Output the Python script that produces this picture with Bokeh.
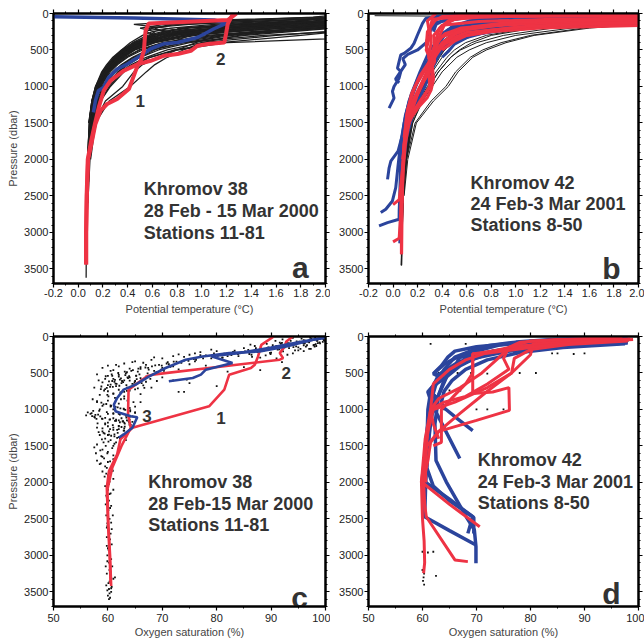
from bokeh.plotting import figure
from bokeh.models import Range1d, LinearAxis, FixedTicker, PrintfTickFormatter
from bokeh.layouts import column, row
from bokeh.embed import file_html
from bokeh.resources import INLINE
from bokeh.core.properties import value

nan = float("nan")
FONT = "Liberation Sans"
RED = "#ee3344"
BLUE = "#2b449c"
INK = "#1e1e1e"
TXT = "#333333"

# ---------------- Panel a : Khromov 38 potential temperature ----------------
LEVELS_A = [0, 50, 100, 150, 200, 250, 300, 400, 500, 600, 700, 800, 1000, 1200, 1500, 2000, 2600, 3300, 3620]
CTD_A = [
    [3.0, 2.9, 2.6, 2.2, 1.7, 1.25, 0.95, 0.62, 0.45, 0.36, 0.29, 0.24, 0.17, 0.13, 0.10, 0.08, 0.07, 0.065, 0.064],
    [2.8, 2.7, 2.4, 2.0, 1.5, 1.10, 0.85, 0.55, 0.42, 0.33, 0.27, 0.22, 0.16, 0.12, 0.095, 0.078, 0.07, nan, nan],
    [2.6, 2.5, 2.3, 1.9, 1.4, 1.00, 0.78, 0.52, 0.39, 0.31, 0.26, 0.21, 0.15, 0.12, 0.095, 0.08, nan, nan, nan],
    [3.2, 3.0, 2.7, 2.3, 1.9, 1.45, 1.10, 0.70, 0.50, 0.39, 0.31, 0.25, 0.18, 0.14, 0.105, 0.082, 0.072, 0.066, nan],
    [2.5, 2.4, 2.1, 1.6, 1.2, 0.92, 0.72, 0.50, 0.38, 0.30, 0.25, 0.20, 0.145, 0.115, 0.09, nan, nan, nan, nan],
    [3.0, 2.8, 2.5, 2.1, 1.8, 1.50, 1.25, 0.85, 0.60, 0.45, 0.36, 0.29, 0.20, 0.15, 0.11, 0.085, 0.072, nan, nan],
    [2.7, 2.6, 2.2, 1.7, 1.2, 0.85, 0.65, 0.45, 0.35, 0.28, 0.23, 0.19, 0.14, 0.11, 0.09, 0.075, nan, nan, nan],
    [3.1, 3.0, 2.8, 2.5, 2.1, 1.70, 1.35, 0.90, 0.65, 0.50, 0.40, 0.32, 0.22, 0.16, 0.12, 0.09, 0.075, 0.068, nan],
    [2.4, 2.2, 1.5, 0.9, 0.55, 0.75, 0.60, 0.48, 0.40, 0.32, 0.27, 0.22, 0.16, 0.12, 0.095, nan, nan, nan, nan],
    [2.9, 2.8, 2.4, 1.4, 0.8, 1.00, 0.85, 0.62, 0.46, 0.37, 0.30, 0.24, 0.17, 0.13, 0.10, 0.08, nan, nan, nan],
    [2.6, 2.2, 1.8, 1.3, 1.0, 0.80, 0.66, 0.50, 0.40, 0.33, 0.28, 0.23, 0.17, 0.13, 0.10, nan, nan, nan, nan],
    [3.3, 3.1, 2.9, 2.6, 2.3, 2.00, 1.60, 1.00, 0.72, 0.55, 0.43, 0.34, 0.23, 0.17, 0.12, 0.09, 0.075, 0.068, nan],
    [3.5, 3.4, 3.3, 3.2, 3.1, 2.95, 2.70, 1.20, 0.80, 0.58, 0.45, 0.36, 0.25, 0.18, 0.13, 0.095, 0.078, nan, nan],
    [2.3, 2.1, 1.6, 1.1, 0.75, 0.60, 0.52, 0.42, 0.35, 0.29, 0.24, 0.20, 0.14, 0.11, 0.085, nan, nan, nan, nan],
    [2.5, 2.3, 1.9, 1.3, 0.9, 0.68, 0.56, 0.44, 0.36, 0.30, 0.25, 0.21, 0.15, 0.115, 0.09, 0.075, nan, nan, nan],
    [3.0, 2.9, 2.7, 2.4, 2.0, 1.60, 1.30, 1.00, 0.85, 0.72, 0.62, 0.55, 0.42, 0.25, 0.14, 0.10, nan, nan, nan],
    [2.9, 2.8, 2.6, 2.3, 1.9, 1.50, 1.15, 0.95, 0.80, 0.65, 0.52, 0.45, 0.36, 0.22, 0.13, 0.09, nan, nan, nan],
    [2.5, 2.0, 0.9, 0.45, 0.7, 0.90, 0.75, 0.55, 0.42, 0.34, 0.28, 0.23, 0.16, 0.12, 0.095, nan, nan, nan, nan],
    [3.4, 3.2, 3.0, 2.7, 2.4, 2.10, 1.80, 1.15, 0.78, 0.58, 0.46, 0.37, 0.26, 0.18, 0.125, 0.09, 0.075, 0.067, nan],
    [2.8, 2.6, 2.0, 1.5, 1.1, 0.88, 0.72, 0.54, 0.43, 0.35, 0.29, 0.24, 0.17, 0.13, 0.10, 0.08, 0.07, 0.065, nan],
    [2.2, 1.9, 1.2, 0.7, 0.5, 0.62, 0.58, 0.47, 0.38, 0.31, 0.26, 0.21, 0.15, 0.115, 0.09, nan, nan, nan, nan],
    [3.1, 2.95, 2.75, 2.45, 2.0, 1.55, 1.2, 0.78, 0.56, 0.44, 0.35, 0.28, 0.19, 0.14, 0.105, 0.082, nan, nan, nan],
    [2.9, 2.7, 2.3, 1.8, 1.35, 1.0, 0.80, 0.57, 0.44, 0.35, 0.28, 0.23, 0.165, 0.125, 0.095, 0.078, nan, nan, nan],
    [2.7, 2.5, 2.1, 1.6, 1.15, 0.88, 0.70, 0.49, 0.37, 0.30, 0.245, 0.20, 0.145, 0.112, 0.088, nan, nan, nan, nan],
    [3.0, 2.85, 2.55, 2.15, 1.65, 1.2, 0.9, 0.60, 0.45, 0.355, 0.285, 0.235, 0.165, 0.128, 0.098, 0.079, 0.07, nan, nan],
    [2.4, 2.2, 1.75, 1.2, 0.85, 0.70, 0.60, 0.46, 0.37, 0.30, 0.25, 0.205, 0.148, 0.113, 0.088, nan, nan, nan, nan],
    [3.2, 3.05, 2.8, 2.4, 1.95, 1.5, 1.15, 0.72, 0.52, 0.40, 0.32, 0.26, 0.18, 0.135, 0.10, 0.08, 0.07, nan, nan],
    [2.6, 2.3, 1.5, 0.8, 0.6, 0.55, 0.62, 0.50, 0.40, 0.32, 0.265, 0.215, 0.155, 0.12, 0.093, nan, nan, nan, nan],
    [2.85, 2.7, 2.45, 2.05, 1.55, 1.15, 0.88, 0.58, 0.43, 0.34, 0.275, 0.225, 0.16, 0.122, 0.095, 0.078, nan, nan, nan],
    [2.5, 2.35, 2.0, 1.45, 1.0, 0.76, 0.62, 0.46, 0.365, 0.295, 0.24, 0.198, 0.142, 0.11, 0.087, nan, nan, nan, nan],
    [3.3, 3.2, 3.0, 2.75, 2.45, 2.05, 1.5, 0.85, 0.60, 0.47, 0.37, 0.30, 0.21, 0.155, 0.115, 0.088, 0.074, nan, nan],
    [2.7, 2.55, 2.25, 1.8, 1.3, 0.95, 0.75, 0.53, 0.41, 0.33, 0.27, 0.22, 0.16, 0.122, 0.094, nan, nan, nan, nan],
    [2.3, 2.0, 1.3, 0.75, 0.62, 0.70, 0.66, 0.52, 0.41, 0.33, 0.27, 0.22, 0.155, 0.118, 0.092, nan, nan, nan, nan],
    [3.1, 2.9, 2.6, 2.2, 1.8, 1.4, 1.05, 0.68, 0.49, 0.38, 0.30, 0.245, 0.172, 0.13, 0.1, 0.08, nan, nan, nan],
    [2.95, 2.8, 2.5, 2.0, 1.5, 1.12, 0.9, 0.75, 0.62, 0.50, 0.40, 0.33, 0.24, 0.16, 0.11, 0.085, nan, nan, nan],
    [2.6, 2.4, 2.0, 1.55, 1.1, 0.82, 0.66, 0.48, 0.38, 0.305, 0.25, 0.205, 0.15, 0.115, 0.09, 0.076, 0.069, nan, nan],
]
BLUE_A_T = [-0.2, 0.45, 1.1, 1.21, 1.182, 1.098, 0.965, 0.803, 0.692, 0.586, 0.505, 0.397, 0.315, 0.245, 0.204, 0.163, 0.139, 0.123]
BLUE_A_P = [45, 63, 90, 137, 145, 209, 329, 397, 415, 483, 579, 693, 761, 876, 1013, 1058, 1195, 1355]
RED_A1_T = [1.28, 1.21, 0.57, 0.545, 0.537, 0.531, 0.505, 0.483, 0.445, 0.41, 0.315, 0.234, 0.18, 0.139, 0.112, 0.08, 0.07, 0.065, 0.065]
RED_A1_P = [0, 90, 137, 237, 374, 511, 648, 700, 876, 1035, 1172, 1240, 1332, 1514, 1743, 2000, 2500, 3000, 3440]
RED_A2_T = [1.25, 1.209, 1.195, 1.182, 1.047, 0.965, 0.911, 0.803, 0.694, 0.586, 0.483, 0.369, 0.261, 0.206, 0.166, 0.135, 0.105, 0.077, 0.068, 0.063, 0.063]
RED_A2_P = [8, 145, 282, 397, 419, 442, 511, 556, 579, 648, 693, 784, 921, 1058, 1287, 1514, 1743, 2000, 2500, 3000, 3440]

# ---------------- Panel b : Khromov 42 potential temperature ----------------
LEVELS_B = [0, 30, 60, 100, 150, 200, 300, 400, 500, 600, 800, 1000, 1200, 1500, 2000, 2500, 3000, 3450]
CTD_B = [
    [2.8, 2.6, 2.3, 1.6, 1.0, 0.75, 0.52, 0.43, 0.38, 0.34, 0.29, 0.24, 0.19, 0.14, 0.10, 0.08, 0.072, 0.068],
    [3.0, 2.9, 2.6, 2.0, 1.4, 1.0, 0.66, 0.52, 0.45, 0.40, 0.32, 0.26, 0.20, 0.145, 0.10, 0.08, nan, nan],
    [2.6, 2.4, 1.9, 1.3, 0.85, 0.62, 0.46, 0.39, 0.35, 0.32, 0.28, 0.23, 0.18, 0.13, 0.095, nan, nan, nan],
    [3.1, 3.0, 2.7, 2.2, 1.7, 1.3, 0.90, 0.68, 0.55, 0.47, 0.37, 0.29, 0.22, 0.15, 0.105, 0.082, 0.072, nan],
    [2.4, 2.2, 1.7, 1.1, 0.7, 0.52, 0.41, 0.36, 0.33, 0.31, 0.27, 0.22, 0.17, 0.125, 0.09, nan, nan, nan],
    [2.9, 2.7, 2.4, 1.8, 1.2, 0.88, 0.60, 0.49, 0.42, 0.38, 0.31, 0.25, 0.19, 0.14, 0.10, 0.08, 0.07, nan],
    [3.2, 3.1, 2.9, 2.5, 1.95, 1.55, 1.12, 0.88, 0.73, 0.63, 0.51, 0.43, 0.31, 0.18, 0.11, 0.085, 0.075, 0.07],
    [2.7, 2.5, 2.1, 1.5, 0.95, 0.70, 0.49, 0.41, 0.37, 0.34, 0.29, 0.24, 0.19, 0.14, 0.10, 0.08, nan, nan],
    [nan, -0.15, 2.5, 1.9, 1.3, 0.95, 0.63, 0.49, 0.42, 0.37, 0.30, 0.25, 0.19, 0.14, 0.10, 0.08, 0.072, 0.068],
    [3.0, 2.8, 2.4, 1.8, 1.3, 1.1, 0.76, 0.59, 0.50, 0.44, 0.35, 0.28, 0.21, 0.15, 0.10, nan, nan, nan],
    [2.5, 2.3, 2.0, 1.6, 1.1, 0.80, 0.56, 0.46, 0.40, 0.36, 0.30, 0.25, 0.20, 0.15, 0.11, 0.085, 0.072, 0.066],
    [2.2, 2.0, 1.5, 0.9, 0.6, 0.48, 0.40, 0.35, 0.33, 0.31, 0.28, 0.23, 0.18, 0.13, 0.095, nan, nan, nan],
    [3.1, 3.0, 2.8, 2.4, 1.85, 1.45, 1.0, 0.76, 0.62, 0.52, 0.40, 0.32, 0.24, 0.16, 0.105, 0.082, nan, nan],
    [2.9, 2.8, 2.5, 2.0, 1.5, 1.15, 0.80, 0.64, 0.54, 0.47, 0.37, 0.30, 0.23, 0.16, 0.11, 0.085, 0.074, 0.07],
    [3.3, 3.2, 3.0, 2.6, 2.0, 1.6, 1.15, 0.92, 0.76, 0.65, 0.53, 0.45, 0.33, 0.19, 0.12, 0.09, nan, nan],
]
BLUE_B_T = [
    [0.6, 0.35, 0.266, 0.24, 0.199, 0.171, 0.144, 0.09, 0.063, 0.049, 0.036, 0.063, 0.049, 0.008, -0.005, 0.008, -0.032],
    [1.2, 0.6, 0.35, 0.3, 0.27, 0.2, 0.12, 0.08, 0.10, 0.06, 0.02, 0.05],
    [2.2, 1.2, 0.6, 0.4, 0.3, 0.22, 0.15, 0.1, 0.077, 0.041, -0.018, -0.032, -0.045],
    [2.5, 1.5, 0.8, 0.45, 0.3, 0.2, 0.13, 0.09, 0.06, 0.04, 0.022, -0.005, -0.059, -0.1],
    [2.4, 1.3, 0.7, 0.42, 0.28, 0.18, 0.12, 0.08, 0.06, 0.055, 0.05, 0.049, -0.045, -0.114],
    [2.6, 1.8, 1.0, 0.55, 0.35, 0.22, 0.14, 0.09, 0.07, 0.06, 0.06, 0.055],
    [2.2, 1.4, 0.9, 0.6, 0.45, 0.38, 0.34, 0.3],
    [2.1, 1.5, 1.0, 0.7, 0.5, 0.4],
    [2.3, 1.6, 1.1, 0.8, 0.55, 0.45, 0.38, 0.33, 0.25],
    [0.55, 0.45, 0.35, 0.33],
    [2.1, 1.2, 0.7, 0.5, 0.42, 0.36, 0.31, 0.26, 0.2, 0.15, 0.11, 0.09],
    [1.6, 1.0, 0.62, 0.48, 0.4, 0.33],
    [2.1, 1.6, 1.2, 0.9, 0.65, 0.5, 0.42, 0.36],
    [2.1, 1.4, 1.0, 0.75, 0.6, 0.5, 0.45, 0.4],
    [2.1, 1.5, 1.0, 0.6, 0.45, 0.38],
]
BLUE_B_P = [
    [20, 40, 68, 136, 295, 409, 477, 546, 567, 659, 750, 795, 887, 1000, 1068, 1159, 1296],
    [20, 60, 120, 250, 400, 500, 560, 620, 700, 800, 900, 950],
    [60, 120, 200, 300, 500, 800, 1100, 1400, 1659, 1886, 2023, 2114, 2273],
    [70, 130, 200, 350, 600, 900, 1200, 1500, 1800, 2100, 2387, 2569, 2682, 2728],
    [90, 150, 220, 400, 700, 1000, 1300, 1700, 2100, 2500, 2700, 2819, 2865, 2910],
    [80, 130, 200, 320, 550, 850, 1200, 1600, 2000, 2500, 2900, 3150],
    [90, 120, 170, 250, 350, 450, 550, 650],
    [40, 60, 90, 140, 200, 300],
    [110, 140, 180, 230, 300, 400, 550, 700, 900],
    [20, 60, 150, 250],
    [130, 170, 230, 330, 450, 600, 800, 1000, 1200, 1450, 1700, 2000],
    [20, 50, 100, 180, 300, 420],
    [50, 60, 75, 100, 140, 200, 300, 450],
    [150, 170, 210, 260, 330, 420, 520, 600],
    [100, 110, 130, 170, 220, 300],
]
RED_B_T = [
    [2.1, 1.0, 0.5, 0.32, 0.3, 0.31, 0.29, 0.32, 0.3, 0.25, 0.18, 0.13, 0.1, 0.08, 0.07, 0.068, 0.068],
    [2.1, 1.3, 0.7, 0.4, 0.33, 0.34, 0.32, 0.33, 0.31, 0.28, 0.2, 0.14, 0.1, 0.08, 0.072],
    [2.1, 1.5, 0.9, 0.55, 0.42, 0.35, 0.3, 0.28, 0.2, 0.14, 0.1, 0.08, 0.06, 0.05, 0.0],
    [2.1, 1.6, 1.0, 0.6, 0.45, 0.38, 0.3, 0.26, 0.19, 0.13, 0.09, 0.07, 0.06, 0.05, 0.0],
    [2.1, 1.2, 0.8, 0.6, 0.5, 0.42, 0.36, 0.33, 0.3, 0.26, 0.22, 0.16, 0.12, 0.1, 0.08],
    [0.35, 0.28, 0.3, 0.27, 0.31, 0.29, 0.3, 0.22, 0.15, 0.11],
    [2.1, 1.0, 0.6, 0.45, 0.38, 0.34, 0.32, 0.25, 0.18, 0.12, 0.09],
    [1.8, 1.0, 0.6, 0.4, 0.34, 0.28, 0.27, 0.3, 0.34, 0.3, 0.22, 0.15, 0.1, 0.08],
    [2.1, 1.4, 0.9, 0.6, 0.48, 0.4, 0.35, 0.3, 0.22, 0.15, 0.11, 0.09, 0.075, 0.07],
    [2.1, 1.7, 1.2, 0.8, 0.55, 0.4, 0.34, 0.32, 0.3, 0.26],
    [2.1, 1.5, 1.0, 0.7, 0.5, 0.42, 0.38, 0.35, 0.33],
    [2.1, 1.6, 1.1, 0.8, 0.6, 0.5, 0.4],
    [2.1, 1.7, 1.3, 0.9, 0.65, 0.52, 0.45, 0.4],
]
RED_B_P = [
    [30, 40, 50, 80, 200, 400, 600, 800, 1000, 1150, 1300, 1500, 1800, 2200, 2700, 3100, 3300],
    [60, 80, 110, 160, 300, 500, 700, 900, 1050, 1150, 1300, 1450, 1700, 2100, 2600],
    [100, 120, 150, 200, 280, 400, 600, 800, 1100, 1400, 1700, 2100, 2400, 2550, 2620],
    [130, 150, 190, 260, 360, 500, 700, 900, 1150, 1400, 1800, 2300, 2800, 3080, 3130],
    [160, 200, 250, 300, 350, 420, 500, 600, 700, 850, 1000, 1200, 1400, 1700, 2000],
    [0, 100, 300, 500, 650, 800, 1000, 1200, 1400, 1600],
    [20, 30, 45, 100, 200, 400, 600, 800, 1000, 1300, 1700],
    [0, 10, 20, 40, 100, 250, 450, 550, 650, 800, 1000, 1250, 1600, 2000],
    [70, 100, 150, 220, 300, 400, 520, 650, 850, 1100, 1400, 1800, 2500, 3300],
    [100, 110, 130, 170, 230, 320, 450, 600, 750, 900],
    [20, 25, 35, 50, 80, 150, 300, 500, 700],
    [120, 140, 175, 230, 300, 380, 500],
    [75, 85, 100, 130, 180, 260, 350, 450],
]

# ---------------- Panel c : Khromov 38 oxygen saturation ----------------
DOTS_C_X = [
    99.2, 98.1, 97.4, 99.6, 96.0, 98.5, 95.2, 97.0, 93.1, 99.0, 94.2, 96.6, 91.0, 98.0, 92.5, 89.2, 95.6, 99.8,
    97.2, 88.1, 90.3, 96.2, 93.6, 98.2, 94.6, 99.5, 91.6, 87.0, 95.0, 92.1, 97.8, 96.9, 94.0, 90.8, 86.2,
    85, 88, 92, 95, 80, 83, 90, 76, 86, 93, 78, 82, 74, 88, 70, 96, 89, 84, 79, 91, 75, 72, 86.5, 94, 81, 97, 77, 87, 73, 68.5,
    68, 65, 71, 63, 75, 67, 60, 62, 66, 70, 64, 73, 61, 68.5, 65.5, 78, 85, 92, 88, 63.5, 59, 66.5, 76, 82, 69, 61.5, 64.5, 72, 60.5, 67.5,
    58, 60, 62, 64, 66, 61, 63, 65, 67, 59, 62.5, 64.5, 60.5, 66.5, 61.5, 63.5, 65.5, 59.5, 62, 64, 60, 63, 61, 66, 58.5,
    70, 72, 75, 68, 80, 73, 57.5, 62.2, 64.2, 61.2, 63.2, 65.2, 69, 74.5, 60.8,
    57, 56, 57.5, 58, 59, 60, 61, 62, 63, 64, 60, 61, 62, 63, 64, 65, 59, 60, 62, 63, 64, 61, 65, 66, 62.5, 63.5, 64.5,
    58.5, 60.5, 59.5, 74, 61.5, 62.8, 63.8, 57.3, 58.2,
    58, 59, 60, 61, 62, 63, 59.5, 60.5, 61.5, 58, 57.5, 59, 60, 61, 62, 60.2, 61.2, 59.2, 57.8, 58.5, 62.5, 61.8,
    58, 59, 60, 61, 59.5, 60.5, 58.5, 59, 60, 61, 59.7, 60.3, 58.8, 60.8,
    59.5, 60, 60.5, 59.8, 60.2, 59.6, 60.4, 60, 59.7, 60.3, 60.6, 59.9, 60.1, 60.5, 59.8, 60.2, 60.7, 60, 60.4,
    59.9, 60.6, 60.2, 60.8, 60.3, 59.8, 60.5, 61, 60.1, 60.7, 59.9, 60.3, 60.4, 61.3, 59.6, 60.9, 61, 60.2, 60.6,
]
DOTS_C_P = [
    10, 20, 30, 40, 50, 60, 70, 80, 90, 95, 110, 120, 130, 140, 150, 100, 30, 25,
    15, 140, 120, 95, 60, 105, 135, 75, 85, 130, 150, 40, 120, 65, 20, 60, 110,
    160, 170, 180, 190, 200, 210, 220, 230, 240, 250, 260, 270, 280, 290, 300, 200, 260, 230, 180, 300, 250, 270, 280, 230, 290, 170, 215, 190, 245, 285,
    320, 340, 350, 370, 380, 390, 400, 410, 420, 430, 440, 450, 460, 470, 480, 400, 420, 350, 460, 490, 430, 360, 340, 480, 500, 390, 350, 410, 470, 455,
    520, 540, 550, 560, 570, 580, 600, 610, 620, 630, 640, 650, 660, 670, 680, 700, 710, 720, 730, 740, 750, 760, 780, 790, 800,
    560, 600, 640, 700, 680, 760, 700, 590, 690, 620, 530, 540, 610, 590, 610,
    1050, 1080, 1100, 900, 950, 880, 1000, 920, 850, 980, 1060, 1120, 1150, 1180, 1100, 1040, 1130, 1180, 1060, 1000, 1200, 1060, 960, 900, 1120, 1150, 1170,
    1000, 960, 1190, 760, 1140, 1160, 1160, 1020, 1070,
    1250, 1300, 1350, 1280, 1230, 1260, 1400, 1420, 1450, 1480, 1520, 1550, 1580, 1500, 1380, 1300, 1340, 1450, 1600, 1350, 1240, 1320,
    1700, 1650, 1720, 1680, 1780, 1820, 1750, 1850, 1900, 1950, 1880, 1990, 1640, 1760,
    2050, 2100, 2150, 2200, 2250, 2300, 2350, 2400, 2450, 2500, 2550, 2600, 2650, 2700, 2750, 2800, 2850, 2900, 2950,
    3000, 3050, 3100, 3150, 3200, 3250, 3300, 3320, 3380, 3430, 3480, 3520, 3580, 3300, 3150, 2450, 2100, 3600, 3450,
]
DOTS_C2_X = [
    99.0, 98.4, 97.6, 96.8, 95.9, 94.8, 93.9, 92.7, 91.8, 90.6, 99.7, 98.9, 97.9, 96.4, 95.4, 94.4, 93.3, 92.2,
    91.2, 89.8, 88.6, 87.5, 86.4, 85.2, 83.9, 82.7, 81.4, 80.2, 98.6, 97.3,
    77.5, 76.2, 74.8, 73.5, 72.1, 70.8, 69.4, 68.1, 66.9, 65.6, 64.3, 63.1, 61.9, 60.7, 59.6, 71.5, 69.8, 67.3,
    65.2, 63.6, 62.4, 61.3, 60.2, 66.2, 64.8, 63.4, 62.1, 60.9, 59.8, 58.7, 67.8, 66.1, 64.9, 63.7, 62.6, 61.6,
    60.4, 59.3, 65.8, 63.9,
    60.1, 61.3, 62.4, 63.6, 64.7, 59.2, 60.6, 61.8, 62.9, 64.1, 58.4, 59.8, 61.0, 62.2, 63.3, 64.5, 57.6, 58.9,
    60.3, 61.5, 62.7, 63.9, 58.1, 59.5, 60.9, 62.0, 63.1, 64.3, 59.0, 60.4, 61.7, 62.9, 56.8, 57.9, 63.4, 64.0,
    58.3, 59.4, 60.6, 61.7, 58.9, 60.1, 61.2, 59.6, 60.8, 58.6, 59.9, 61.0, 59.3, 60.4, 58.7, 59.8, 60.9, 59.4,
    60.2, 59.7, 60.6, 60.0, 59.8, 60.4, 60.1, 59.9, 60.5, 60.3, 59.7, 60.2, 60.6, 60.0, 60.4, 59.8, 60.7, 60.1, 60.3, 59.9,
]
DOTS_C2_P = [
    35, 55, 45, 70, 90, 85, 110, 125, 100, 160, 50, 80, 115, 140, 170, 190, 160, 205,
    180, 225, 195, 215, 250, 205, 240, 255, 235, 265, 90, 170,
    300, 320, 335, 360, 345, 370, 390, 410, 425, 440, 470, 480, 500, 520, 545, 415, 455, 505,
    535, 560, 575, 595, 615, 640, 655, 665, 675, 690, 705, 720, 580, 600, 630, 570, 610, 650,
    690, 740, 520, 545,
    820, 840, 860, 880, 900, 930, 950, 970, 990, 1010, 1020, 1035, 1050, 1070, 1085, 1095, 1110, 1125,
    1140, 1155, 1165, 1175, 1190, 1205, 1215, 1225, 1235, 1245, 1260, 1270, 1280, 1290, 1060, 1130, 1110, 1140,
    1310, 1330, 1360, 1390, 1410, 1440, 1470, 1500, 1530, 1560, 1600, 1630, 1670, 1710, 1740, 1800, 1840, 1920,
    2020, 2180, 2320, 2480, 2620, 2780, 2920, 3080, 3230, 3360, 3410, 3460, 3500, 3550, 3090, 2870, 2640, 2380, 2160, 2560,
]
DOTS_C3_X = [
    99.3, 98.7, 97.1, 96.3, 95.5, 94.7, 93.4, 92.0, 90.9, 89.5, 88.3, 87.2, 85.8, 84.6, 83.3, 82.0, 80.8, 79.5,
    78.3, 77.0, 99.9, 98.3, 96.0, 94.1, 91.5, 89.9, 86.8, 84.0, 81.1, 79.0,
    75.8, 74.0, 72.6, 71.2, 69.9, 68.7, 67.4, 66.0, 64.6, 63.3, 62.0, 60.8, 59.5, 58.3, 70.3, 68.9, 67.0, 65.3,
    64.0, 62.8, 61.4, 60.0, 58.8, 66.7, 65.0, 63.5, 62.3, 61.0, 59.9, 63.0,
    57.2, 58.0, 58.8, 59.7, 60.5, 61.4, 62.3, 63.2, 64.1, 65.0, 57.7, 58.6, 59.5, 60.4, 61.3, 62.2, 63.1, 64.0,
    56.3, 57.1, 60.0, 61.0, 62.0, 63.0, 64.2, 59.2, 60.2, 61.2, 62.2, 63.3,
]
DOTS_C3_P = [
    5, 28, 42, 58, 78, 68, 95, 88, 135, 150, 175, 160, 185, 215, 195, 225, 245, 230,
    270, 255, 60, 130, 120, 145, 175, 240, 210, 270, 290, 300,
    310, 330, 345, 380, 400, 395, 430, 445, 460, 505, 525, 540, 580, 600, 470, 490, 550, 585,
    605, 625, 645, 665, 685, 705, 725, 745, 765, 785, 800, 820,
    860, 885, 905, 925, 945, 965, 985, 1005, 1025, 1045, 1075, 1095, 1115, 1135, 1155, 1175, 1195, 1215,
    1040, 1090, 1230, 1250, 1270, 1290, 1210, 1320, 1345, 1370, 1395, 1420,
]
BLUE_C1_X = [99.5, 97.7, 92.8, 87.9, 82.3, 77.4, 74.3, 70.6, 67.6, 65.1, 62.9, 61.7, 61.1, 61.4, 62.3, 64.2, 65.4, 64.5, 62.9, 62.0]
BLUE_C1_P = [20, 45, 137, 205, 228, 273, 318, 432, 546, 659, 728, 842, 933, 1024, 1047, 1092, 1106, 1251, 1342, 1388]
BLUE_C2_X = [100, 95, 90, 84, 79, 82.9, 78, 77.1, 75.6, 71.2]
BLUE_C2_P = [15, 80, 150, 230, 270, 364, 455, 523, 569, 614]
RED_C1_X = [90.5, 88.2, 87.6, 87, 86.3, 82.3, 81.4, 78.6, 64.5, 62.3, 61.7, 60.2, 59.8, 60.0, 60.3, 60.5]
RED_C1_P = [0, 114, 273, 387, 432, 523, 728, 956, 1251, 1410, 1615, 1843, 2070, 2525, 2980, 3390]
RED_C2_X = [94, 92.8, 92.5, 91.6, 92.2, 91.6, 68.2, 67.2, 63.8, 63.7, 64.2, 62.5, 60.8, 59.9, 60.1, 60.4, 60.6]
RED_C2_P = [0, 68, 137, 228, 296, 318, 523, 546, 728, 1069, 1251, 1500, 1800, 2100, 2600, 3000, 3420]

# ---------------- Panel d : Khromov 42 oxygen saturation ----------------
DOTS_D_X = [61.5, 68, 72.5, 74, 75.5, 77, 80, 84, 85, 63, 66.5, 69, 72, 75, 78, 65, 66, 67, 64, 70, 72, 75, 61,
            60, 61, 62, 60, 60.3, 60.2, 60.1, 60.3, 62.5, 92, 95, 98, 90, 88, 81]
DOTS_D_P = [100, 100, 220, 220, 220, 220, 230, 230, 230, 500, 500, 500, 510, 500, 500, 740, 740, 740, 1000, 1000, 1000, 1000, 1500,
            2950, 2960, 2950, 3200, 3250, 3300, 3350, 3400, 3280, 30, 40, 60, 230, 240, 500]
BLUE_D_X = [
    [98, 90, 82, 75, 70, 66, 64, 62.2, 64, 62.5, 61.5, 62.5, 62, 61.5, 61, 60.5, 60.2],
    [98, 88, 80, 73, 68, 65, 63, 61, 61.7, 66.9],
    [97.5, 86, 78, 72, 68, 65.5, 64, 63.5, 63.8, 66.5, 69.3],
    [97, 85, 77, 71, 67, 64.5, 63, 62.3, 62.5, 64.4, 68.1, 69.6, 69.9, 69.9],
    [98, 87, 79, 72, 67, 64, 62, 61.5, 61, 60.6, 60.4, 65, 69.9],
    [97, 86, 78, 71, 66, 63, 61.5, 61, 60.8, 60.4, 65, 69.3, 68.4],
    [98, 85, 76, 70, 66, 63.8, 62.2, 61.6, 61.2, 60.8, 62, 65, 69.5, 69.5],
    [98, 85, 76, 70, 66, 64.7, 63.5, 62, 63.8, 62.3, 61, 62.6, 62, 61.3],
    [98, 90, 80, 74, 70, 67, 66, 64, 63],
    [94, 84, 77.3, 72.4, 69.9, 66, 64, 62.5, 61.5, 61, 60.5],
]
BLUE_D_P = [
    [80, 100, 140, 180, 240, 300, 380, 500, 580, 650, 760, 830, 966, 1200, 1500, 1800, 2000],
    [60, 90, 130, 200, 300, 450, 600, 760, 920, 1672],
    [100, 150, 220, 320, 450, 600, 750, 900, 966, 1130, 1290],
    [30, 80, 150, 250, 400, 550, 800, 1200, 1700, 1991, 2470, 2650, 2880, 3107],
    [50, 90, 150, 240, 380, 520, 700, 1000, 1500, 2000, 2470, 2660, 2858],
    [70, 110, 170, 260, 380, 520, 760, 1000, 1500, 1991, 2230, 2470, 2698],
    [90, 130, 200, 290, 400, 500, 640, 900, 1300, 1800, 2050, 2250, 2480, 2700],
    [40, 70, 100, 140, 200, 283, 400, 510, 579, 647, 761, 829, 966, 1012],
    [20, 40, 70, 120, 200, 280, 400, 600, 800],
    [10, 40, 77, 123, 169, 283, 450, 650, 900, 1200, 1500],
]
RED_D_X = [
    [98.5, 90, 82, 76, 72, 68, 65, 62, 61.5, 61, 60.5, 59.8, 60, 60.3, 60.4, 60.2],
    [98, 85, 78, 73, 69.3, 69.3, 73, 76, 76.1, 70, 63, 61.5, 61, 60.2],
    [97, 88, 80.5, 80, 76.5, 72, 66, 62, 61, 60.5, 60.6],
    [98, 87, 80, 77, 76.5, 72, 67, 63, 60.8, 60.2, 60.4, 60.7, 66, 68.4],
    [97, 80, 76, 75, 76, 72, 68, 64, 61.5, 62, 63],
    [96, 85, 78, 76, 74, 71, 67, 63, 61.5, 60.5, 59.8, 65, 70.6],
    [99, 92, 85, 80, 75, 72, 69.3, 69.3, 68, 66, 63.5, 63.5, 62],
]
RED_D_P = [
    [30, 60, 100, 150, 220, 320, 450, 650, 1000, 1300, 1600, 1991, 2500, 2800, 3100, 3244],
    [50, 90, 150, 200, 240, 780, 760, 700, 1012, 1150, 1300, 1450, 1700, 1991],
    [20, 50, 100, 250, 500, 700, 900, 1000, 1300, 1600, 2000],
    [60, 110, 180, 300, 500, 750, 1050, 1300, 1500, 2000, 2300, 2470, 3062, 3085],
    [10, 60, 150, 300, 450, 650, 820, 900, 1000, 1200, 1400],
    [20, 40, 80, 150, 300, 500, 700, 850, 1000, 1400, 1991, 2300, 2607],
    [40, 70, 110, 150, 200, 230, 237, 500, 650, 800, 1000, 1450, 1500],
]

# ---------------- annotations ----------------
TEXT_A = ["Khromov 38", "28 Feb - 15 Mar 2000", "Stations 11-81"]
TEXT_B = ["Khromov 42", "24 Feb-3 Mar 2001", "Stations 8-50"]
TEXT_C = ["Khromov 38", "28 Feb-15 Mar 2000", "Stations 11-81"]
TEXT_D = ["Khromov 42", "24 Feb-3 Mar 2001", "Stations  8-50"]

P_TICKS = list(range(0, 3501, 500))
P_MINOR = list(range(0, 3701, 100))
T_TICKS = [round(-0.2 + 0.2 * i, 1) for i in range(12)]
T_MINOR = [round(-0.2 + 0.1 * i, 2) for i in range(23)]
O_TICKS = list(range(50, 101, 10))
O_MINOR = list(range(50, 101, 5))


def profiles(levels, rows):
    xs, ys = [], []
    for r in rows:
        xx, yy = [], []
        for t, pp in zip(r, levels):
            if t == t:
                xx.append(t)
                yy.append(pp)
        xs.append(xx)
        ys.append(yy)
    return xs, ys


def panel(width, height, xr, xt, xm, fmt, bl, br, bt, bb, xlabel, ylabel, tstand, lstand):
    p = figure(width=width, height=height, x_range=Range1d(*xr), y_range=Range1d(3700, 0),
               output_backend="svg", toolbar_location=None,
               x_axis_location=None, y_axis_location=None,
               min_border_left=bl, min_border_right=br, min_border_top=bt, min_border_bottom=bb)
    p.grid.visible = False
    p.outline_line_color = "black"
    p.outline_line_width = 2
    p.background_fill_color = "white"
    p.border_fill_color = "white"
    for loc in ("below", "above", "left", "right"):
        if loc in ("below", "above"):
            ax = LinearAxis(ticker=FixedTicker(ticks=xt, minor_ticks=xm))
            if fmt:
                ax.formatter = PrintfTickFormatter(format=fmt)
        else:
            ax = LinearAxis(ticker=FixedTicker(ticks=P_TICKS, minor_ticks=P_MINOR))
        ax.axis_line_width = 2
        ax.axis_line_color = "black"
        ax.major_tick_out = 4
        ax.major_tick_in = 0
        ax.minor_tick_out = 2
        ax.minor_tick_in = 0
        ax.major_tick_line_width = 1.2
        ax.minor_tick_line_width = 1
        ax.major_label_text_font = FONT
        ax.major_label_text_font_size = "11px"
        ax.major_label_text_color = "#222222"
        ax.major_label_standoff = tstand if loc == "below" else 1
        if loc in ("above", "right"):
            ax.major_label_text_color = None
            ax.major_label_text_font_size = "1px"
            ax.major_label_standoff = 0
        if loc == "below":
            ax.axis_label = xlabel
        if loc == "left" and ylabel:
            ax.axis_label = ylabel
        ax.axis_label_text_font = FONT
        ax.axis_label_text_font_size = "11px"
        ax.axis_label_text_font_style = "normal"
        ax.axis_label_text_color = "#444444"
        ax.axis_label_standoff = lstand if loc == "below" else 2
        p.add_layout(ax, loc)
    return p


def texts(p, x, ys, lines, size="18px"):
    p.text(x=[x] * len(lines), y=ys, text=lines, text_font=value(FONT), text_font_size=size,
           text_font_style="bold", text_color=TXT, text_baseline="alphabetic", text_align="left")


XT = "Potential temperature (\u00b0C)"
XO = "Oxygen saturation (%)"
YL = "Pressure (dbar)"

# ---- a
pa = panel(330, 320, (-0.2, 2.0), T_TICKS, T_MINOR, "%.1f", 53, 5, 13, 37, XT, YL, 1, 3)
xs, ys = profiles(LEVELS_A, CTD_A)
pa.multi_line(xs=xs, ys=ys, line_color=INK, line_width=1.3)
pa.line(BLUE_A_T, BLUE_A_P, line_color=BLUE, line_width=3.5)
pa.line(RED_A1_T, RED_A1_P, line_color=RED, line_width=4)
pa.line(RED_A2_T, RED_A2_P, line_color=RED, line_width=4)
texts(pa, 0.53, [2400, 2701, 3002], TEXT_A)
texts(pa, 0.464, [1195], ["1"], "17px")
texts(pa, 1.114, [625], ["2"], "17px")
texts(pa, 1.73, [3476], ["a"], "30px")

# ---- b
pb = panel(314, 320, (-0.2, 2.0), T_TICKS, T_MINOR, "%.1f", 38, 6, 12, 37, XT, None, 1, 3)
xs, ys = profiles(LEVELS_B, CTD_B)
pb.multi_line(xs=xs, ys=ys, line_color=INK, line_width=1.0)
pb.multi_line(xs=BLUE_B_T, ys=BLUE_B_P, line_color=BLUE, line_width=3)
pb.multi_line(xs=RED_B_T, ys=RED_B_P, line_color=RED, line_width=3)
texts(pb, 0.631, [2319, 2613, 2896], TEXT_B)
texts(pb, 1.705, [3500], ["b"], "30px")

# ---- c
pc = panel(330, 323, (50, 100), O_TICKS, O_MINOR, None, 53, 5, 15, 37, XO, YL, 3, 1)
for dx, dp in ((DOTS_C_X, DOTS_C_P), (DOTS_C2_X, DOTS_C2_P), (DOTS_C3_X, DOTS_C3_P)):
    pc.scatter(dx, dp, size=1.8, marker="square", color="#111111", line_width=0)
pc.line(RED_C1_X, RED_C1_P, line_color=RED, line_width=2.6)
pc.line(RED_C2_X, RED_C2_P, line_color=RED, line_width=2.6)
pc.line(BLUE_C1_X, BLUE_C1_P, line_color=BLUE, line_width=2.6)
pc.line(BLUE_C2_X, BLUE_C2_P, line_color=BLUE, line_width=2.6)
texts(pc, 67.4, [1993, 2297, 2580], TEXT_C)
texts(pc, 79.9, [1115], ["1"], "17px")
texts(pc, 91.9, [501], ["2"], "17px")
texts(pc, 66.3, [1092], ["3"], "17px")
texts(pc, 93.7, [3572], ["c"], "30px")

# ---- d
pd = panel(314, 323, (50, 100), O_TICKS, O_MINOR, None, 38, 6, 16, 36, XO, None, 3, 1)
pd.scatter(DOTS_D_X, DOTS_D_P, size=1.8, marker="square", color="#111111", line_width=0)
pd.multi_line(xs=BLUE_D_X, ys=BLUE_D_P, line_color=BLUE, line_width=3.5)
pd.multi_line(xs=RED_D_X, ys=RED_D_P, line_color=RED, line_width=3)
texts(pd, 70.25, [1695, 1992, 2287], TEXT_D)
texts(pd, 93.3, [3517], ["d"], "30px")

layout = column(row(pa, pb), row(pc, pd))
open("out.html", "w").write(file_html(layout, INLINE))
